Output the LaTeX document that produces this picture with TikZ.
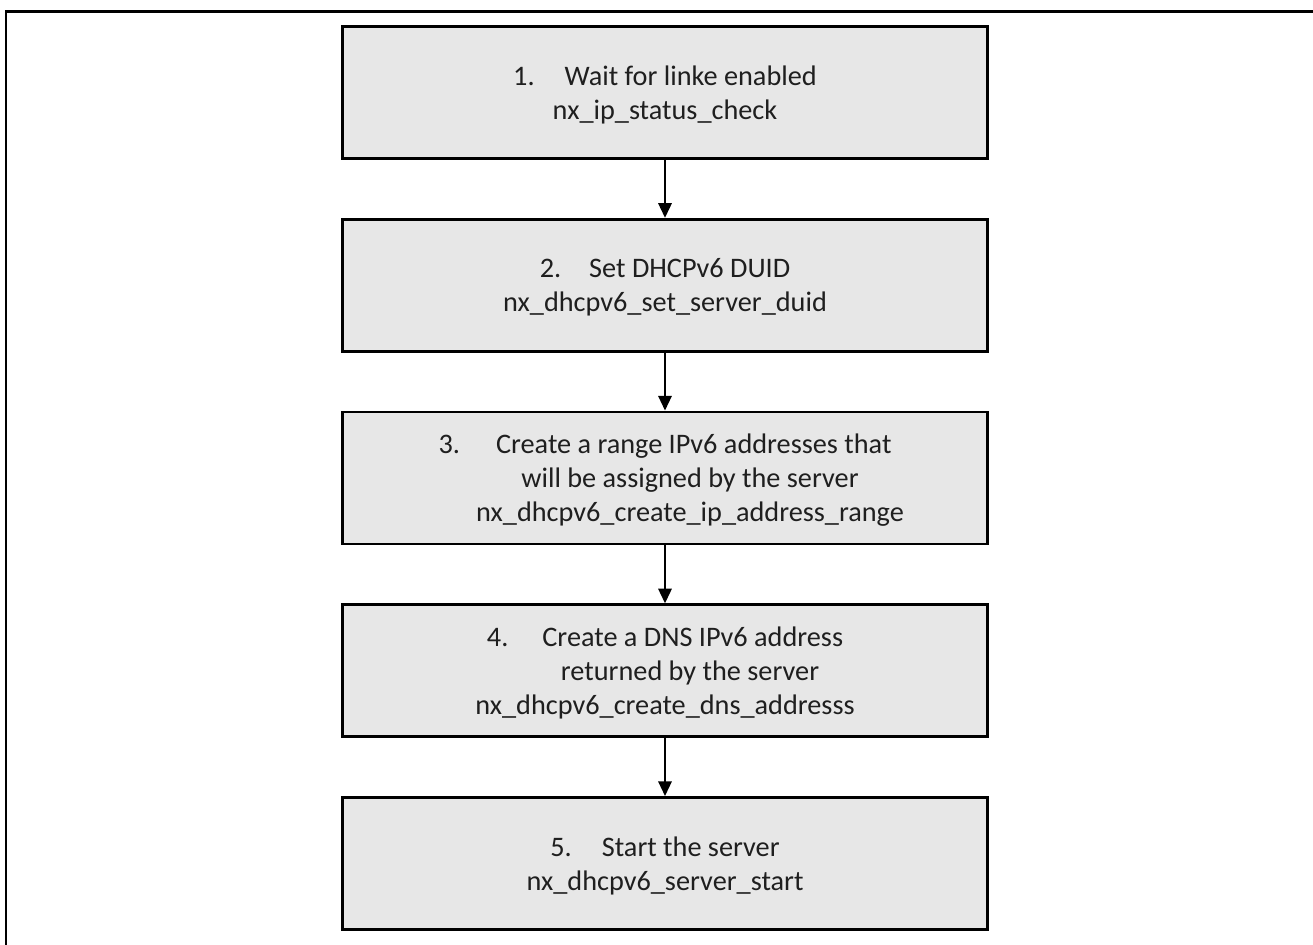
\documentclass[tikz,border=0pt]{standalone}
\usepackage{fontspec}
\setmainfont{Carlito}
\usetikzlibrary{arrows.meta}
\newdimen\pxu
\pxu=0.75pt
\begin{document}
\begin{tikzpicture}[x=0.75pt,y=-0.75pt,
  stepbox/.style={draw=black,line width=2.2pt,fill=boxgray,minimum width=645*0.75pt,minimum height=132*0.75pt,inner sep=0pt,align=center,text depth=0pt,font=\fontsize{21.2pt}{25.5pt}\selectfont,text=black!88},
  flow/.style={line width=1.6pt,-{Triangle[width=10pt,length=11pt]}}]
\definecolor{boxgray}{HTML}{E7E7E7}
\useasboundingbox (0,0) rectangle (1313,945);
\fill[white] (0,0) rectangle (1313,945);
\draw[line width=1.9pt] (6.2,945) -- (6.2,11.3) -- (1313,11.3);
\node[stepbox] (s1) at (665,92.5) {1.\hspace{30\pxu}Wait for linke enabled\\nx\_ip\_status\_check};
\node[stepbox] (s2) at (665,285.3) {2.\hspace{28\pxu}Set DHCPv6 DUID\\nx\_dhcpv6\_set\_server\_duid};
\node[stepbox] (s3) at (665,478) {3.\hspace{36\pxu}Create a range IPv6 addresses that\\\hspace*{50\pxu}will be assigned by the server\\\hspace*{50\pxu}nx\_dhcpv6\_create\_ip\_address\_range};
\node[stepbox] (s4) at (665,670.8) {4.\hspace{34\pxu}Create a DNS IPv6 address\\\hspace*{50\pxu}returned by the server\\nx\_dhcpv6\_create\_dns\_addresss};
\node[stepbox] (s5) at (665,863.5) {5.\hspace{30\pxu}Start the server\\nx\_dhcpv6\_server\_start};
\draw[flow] (s1) -- (s2);
\draw[flow] (s2) -- (s3);
\draw[flow] (s3) -- (s4);
\draw[flow] (s4) -- (s5);
\end{tikzpicture}
\end{document}
